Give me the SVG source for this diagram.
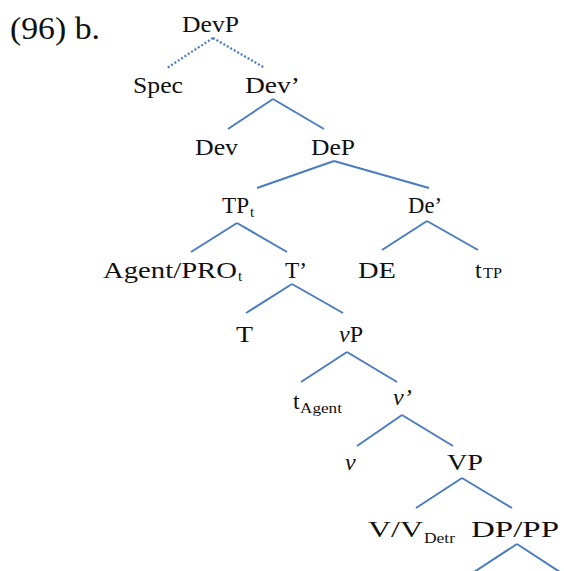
<svg xmlns="http://www.w3.org/2000/svg" width="564" height="571" viewBox="0 0 564 571">
<style>
.sub{font-size:15px}
.it{font-style:italic}
.e{stroke:#4A7CC0;stroke-width:2;fill:none}
.dot{stroke:#4A7CC0;stroke-width:2.2;fill:none;stroke-dasharray:2 2}
</style>
<rect width="564" height="571" fill="#fff"/>
<g id="edges">
<line class="dot" x1="213" y1="38" x2="167" y2="68"/>
<line class="dot" x1="213" y1="38" x2="265" y2="68"/>
<line class="e" x1="273" y1="99" x2="228" y2="129"/>
<line class="e" x1="273" y1="99" x2="324" y2="129"/>
<line class="e" x1="334" y1="161" x2="257" y2="188"/>
<line class="e" x1="334" y1="161" x2="429" y2="188"/>
<line class="e" x1="237" y1="223" x2="191" y2="252"/>
<line class="e" x1="237" y1="223" x2="287" y2="252"/>
<line class="e" x1="427" y1="221" x2="382" y2="250"/>
<line class="e" x1="427" y1="221" x2="478" y2="250"/>
<line class="e" x1="292" y1="284" x2="246" y2="313"/>
<line class="e" x1="292" y1="284" x2="343" y2="313"/>
<line class="e" x1="347" y1="352" x2="301" y2="382"/>
<line class="e" x1="347" y1="352" x2="397" y2="382"/>
<line class="e" x1="402" y1="415" x2="357" y2="446"/>
<line class="e" x1="402" y1="415" x2="453" y2="446"/>
<line class="e" x1="462" y1="478" x2="416" y2="508"/>
<line class="e" x1="462" y1="478" x2="512" y2="508"/>
<line class="e" x1="517" y1="544" x2="471" y2="574"/>
<line class="e" x1="517" y1="544" x2="563" y2="574"/>
</g>
<g font-family="Liberation Serif, serif" font-size="24" fill="#111">
<text x="10" y="39" font-size="32" textLength="90" lengthAdjust="spacingAndGlyphs">(96) b.</text>
<g id="DevP"><text x="182" y="32" textLength="57" lengthAdjust="spacingAndGlyphs">DevP</text></g>
<g id="Spec"><text x="133" y="93" textLength="50" lengthAdjust="spacingAndGlyphs">Spec</text></g>
<g id="Devbar"><text x="245" y="93" textLength="55" lengthAdjust="spacingAndGlyphs">Dev’</text></g>
<g id="Dev"><text x="195" y="155" textLength="43" lengthAdjust="spacingAndGlyphs">Dev</text></g>
<g id="DeP"><text x="311" y="155" textLength="44" lengthAdjust="spacingAndGlyphs">DeP</text></g>
<g id="TPt"><text x="222" y="213" textLength="27" lengthAdjust="spacingAndGlyphs">TP</text><text class="sub" x="250" y="217">t</text></g>
<g id="Debar"><text x="408" y="213" textLength="34" lengthAdjust="spacingAndGlyphs">De’</text></g>
<g id="AgentPRO"><text x="103" y="278" textLength="134" lengthAdjust="spacingAndGlyphs">Agent/PRO</text><text class="sub" x="238" y="281">t</text></g>
<g id="Tbar"><text x="285" y="278" textLength="22" lengthAdjust="spacingAndGlyphs">T’</text></g>
<g id="DE"><text x="358" y="278" textLength="38" lengthAdjust="spacingAndGlyphs">DE</text></g>
<g id="tTP"><text x="475" y="278">t</text><text class="sub" x="483" y="278" textLength="19" lengthAdjust="spacingAndGlyphs">TP</text></g>
<g id="T"><text x="236" y="342" textLength="17" lengthAdjust="spacingAndGlyphs">T</text></g>
<g id="vP"><text x="339" y="342"><tspan class="it">v</tspan>P</text></g>
<g id="tAgent"><text x="293" y="409">t</text><text class="sub" x="300" y="413" textLength="42" lengthAdjust="spacingAndGlyphs">Agent</text></g>
<g id="vbar"><text x="393" y="405" class="it">v’</text></g>
<g id="v"><text x="345" y="470" class="it">v</text></g>
<g id="VP"><text x="447" y="470" textLength="36" lengthAdjust="spacingAndGlyphs">VP</text></g>
<g id="VVDetr"><text x="368" y="537" textLength="55" lengthAdjust="spacingAndGlyphs">V/V</text><text class="sub" x="424" y="543" textLength="31" lengthAdjust="spacingAndGlyphs">Detr</text></g>
<g id="DPPP"><text x="471" y="537" textLength="88" lengthAdjust="spacingAndGlyphs">DP/PP</text></g>
</g>
</svg>
